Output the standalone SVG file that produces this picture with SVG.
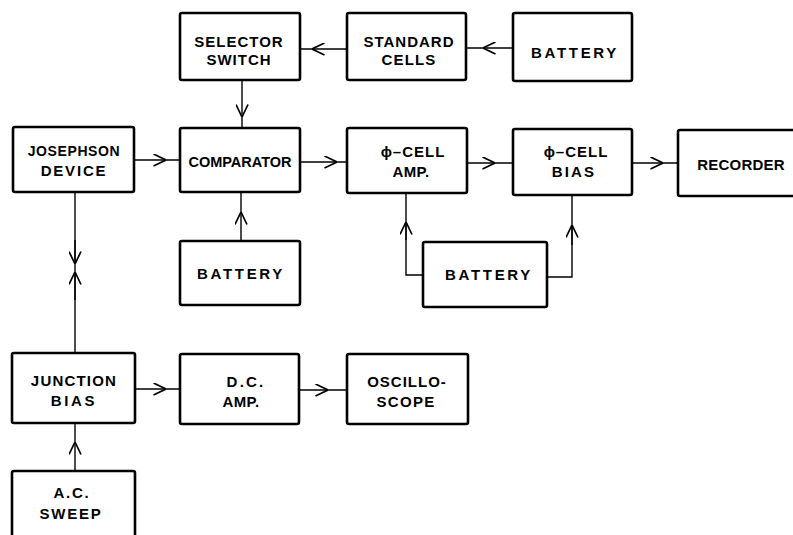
<svg xmlns="http://www.w3.org/2000/svg" width="793" height="535" viewBox="0 0 793 535">
<style>
.box{fill:#fff;stroke:#000;stroke-width:2.6}
.t{font-family:"Liberation Sans",Arial,sans-serif;font-weight:bold;font-size:15px;fill:#000;text-anchor:middle}
.c{fill:none;stroke:#000;stroke-width:1.4}
</style>
<defs>
<marker id="a" viewBox="0 0 13 13" refX="13" refY="6.5" markerWidth="13" markerHeight="13" orient="auto" markerUnits="userSpaceOnUse">
<path d="M0.5,0.5 L13,6.5 L0.5,12.5" fill="none" stroke="#000" stroke-width="1.7"/>
</marker>
</defs>
<rect width="793" height="535" fill="#fff"/>
<g id="connectors">
<path class="c" d="M347,49 L312,49 L300,49" marker-mid="url(#a)"/>
<path class="c" d="M513,48 L483,48 L466,48" marker-mid="url(#a)"/>
<path class="c" d="M242,80 L242,117 L242,128" marker-mid="url(#a)"/>
<path class="c" d="M134,160 L166,160 L180,160" marker-mid="url(#a)"/>
<path class="c" d="M300,162 L337,162 L347,162" marker-mid="url(#a)"/>
<path class="c" d="M467,163 L495,163 L513,163" marker-mid="url(#a)"/>
<path class="c" d="M632,163 L663,163 L678,163" marker-mid="url(#a)"/>
<path class="c" d="M241,241 L241,212 L241,192" marker-mid="url(#a)"/>
<path class="c" d="M423,275 H406 V193"/>
<path class="c" d="M406,240 V222" marker-end="url(#a)"/>
<path class="c" d="M547,277 H572 V195"/>
<path class="c" d="M572,245 V225" marker-end="url(#a)"/>
<path class="c" d="M75,192 V353"/>
<path class="c" d="M75,240 V264" marker-end="url(#a)"/>
<path class="c" d="M75,300 V272" marker-end="url(#a)"/>
<path class="c" d="M135,389 L166,389 L180,389" marker-mid="url(#a)"/>
<path class="c" d="M299,390 L328,390 L347,390" marker-mid="url(#a)"/>
<path class="c" d="M75,471 L75,442 L75,423" marker-mid="url(#a)"/>
</g>
<g id="selector-switch">
<rect class="box" x="180" y="13" width="120" height="67" rx="2"/>
<text class="t" x="239" y="47" style="letter-spacing:1px">SELECTOR</text>
<text class="t" x="239" y="65" style="letter-spacing:1px">SWITCH</text>
</g>
<g id="standard-cells">
<rect class="box" x="347" y="13" width="119" height="67" rx="2"/>
<text class="t" x="409" y="47" style="letter-spacing:1px">STANDARD</text>
<text class="t" x="409" y="65" style="letter-spacing:1.2px">CELLS</text>
</g>
<g id="battery-top">
<rect class="box" x="513" y="13" width="119" height="68" rx="2"/>
<text class="t" x="575" y="58" style="letter-spacing:2.7px">BATTERY</text>
</g>
<g id="josephson-device">
<rect class="box" x="13" y="127" width="121" height="65" rx="2"/>
<text class="t" x="74" y="156" style="font-size:14px;letter-spacing:0.6px">JOSEPHSON</text>
<text class="t" x="74" y="176" style="letter-spacing:1.8px">DEVICE</text>
</g>
<g id="comparator">
<rect class="box" x="180" y="128" width="120" height="64" rx="2"/>
<text class="t" x="240" y="167" style="font-size:14.5px;letter-spacing:0px">COMPARATOR</text>
</g>
<g id="phi-cell-amp">
<rect class="box" x="347" y="128" width="120" height="65" rx="2"/>
<text class="t" x="413" y="157" style="letter-spacing:1px">ϕ–CELL</text>
<text class="t" x="411" y="177" style="letter-spacing:0.3px">AMP.</text>
</g>
<g id="phi-cell-bias">
<rect class="box" x="513" y="129" width="119" height="66" rx="2"/>
<text class="t" x="576" y="157" style="letter-spacing:1px">ϕ–CELL</text>
<text class="t" x="574" y="177" style="letter-spacing:2.2px">BIAS</text>
</g>
<g id="recorder">
<rect class="box" x="678" y="130" width="130" height="66" rx="2"/>
<text class="t" x="741" y="170" style="letter-spacing:0.2px">RECORDER</text>
</g>
<g id="battery-comparator">
<rect class="box" x="180" y="241" width="120" height="64" rx="2"/>
<text class="t" x="241" y="279" style="letter-spacing:2.7px">BATTERY</text>
</g>
<g id="battery-phi">
<rect class="box" x="423" y="242" width="124" height="65" rx="2"/>
<text class="t" x="489" y="280" style="letter-spacing:2.7px">BATTERY</text>
</g>
<g id="junction-bias">
<rect class="box" x="12" y="353" width="123" height="70" rx="2"/>
<text class="t" x="74" y="386" style="letter-spacing:1.2px">JUNCTION</text>
<text class="t" x="74" y="406" style="letter-spacing:2.7px">BIAS</text>
</g>
<g id="dc-amp">
<rect class="box" x="180" y="354" width="119" height="70" rx="2"/>
<text class="t" x="246" y="387" style="letter-spacing:2.2px">D.C.</text>
<text class="t" x="241" y="407" style="letter-spacing:0.3px">AMP.</text>
</g>
<g id="oscilloscope">
<rect class="box" x="347" y="354" width="121" height="70" rx="2"/>
<text class="t" x="407" y="387" style="letter-spacing:1px">OSCILLO-</text>
<text class="t" x="406" y="407" style="letter-spacing:1.3px">SCOPE</text>
</g>
<g id="ac-sweep">
<rect class="box" x="12" y="471" width="123" height="80" rx="2"/>
<text class="t" x="72" y="498" style="letter-spacing:1.8px">A.C.</text>
<text class="t" x="71" y="519" style="letter-spacing:1.8px">SWEEP</text>
</g>
</svg>
